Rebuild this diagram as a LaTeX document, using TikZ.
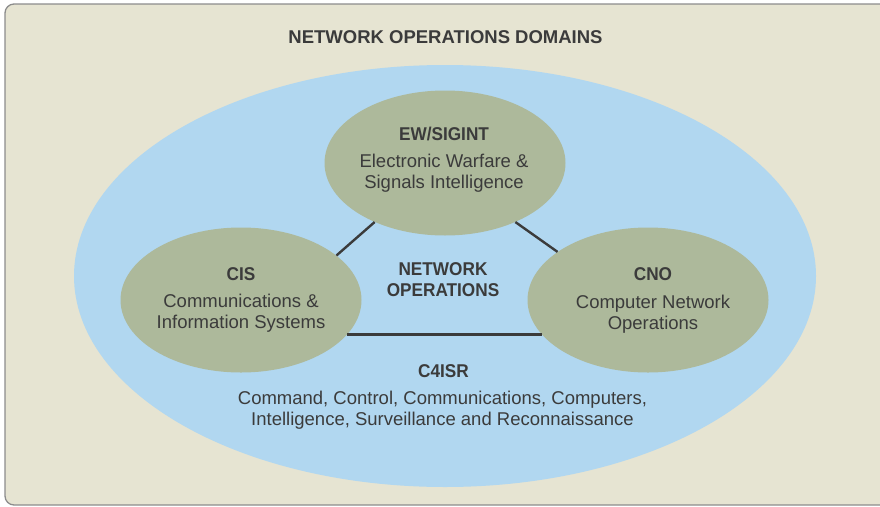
\documentclass[tikz,border=0pt]{standalone}
\usepackage{fontspec}
\setmainfont{Liberation Sans}
\newfontfamily\headfont{Liberation Sans}[FakeStretch=0.93]
\usetikzlibrary{shapes.geometric}
\definecolor{paper}{HTML}{E6E4D2}
\definecolor{sky}{HTML}{B1D7F0}
\definecolor{sage}{HTML}{ADB99B}
\definecolor{ink}{HTML}{3B3B3B}
\definecolor{frame}{HTML}{8C8C8C}
\begin{document}
\begin{tikzpicture}[x=1pt,y=-1pt,
  opsarea/.style={ellipse, fill=sage, minimum width=241pt, minimum height=145pt, inner sep=0pt},
  titletext/.style={anchor=base, text=ink, font=\fontsize{18.5}{21}\selectfont\bfseries, inner sep=0pt},
  head/.style={anchor=base, text=ink, font=\fontsize{18.5}{21}\selectfont\headfont\bfseries, inner sep=0pt},
  body/.style={anchor=base, text=ink, font=\fontsize{18.5}{21}\selectfont, inner sep=0pt},
  link/.style={draw=ink, line width=2.4pt}]
\useasboundingbox (0,0) rectangle (880,506);
% panel
\begin{scope}
  \clip (0,0) rectangle (880,506);
  \draw[fill=paper, draw=frame, line width=1.3pt, rounded corners=9pt] (5,4) rectangle (900,505);
\end{scope}
\node[titletext] (title) at (445.5,43) {NETWORK OPERATIONS DOMAINS};
% outer C4ISR area
\node[ellipse, fill=sky, minimum width=742pt, minimum height=422pt, inner sep=0pt] (c4) at (445,276) {};
% three operations areas
\node[opsarea] (ew)  at (445,163) {};
\node[opsarea] (cis) at (241,300) {};
\node[opsarea] (cno) at (648,300) {};
% connectors
\draw[link] (cis.25.4) -- (ew.220);
\draw[link] (ew.320.7) -- (cno.152.8);
\draw[link] (cis.-18.3) -- (cno.198.3);
% labels
\node[head] (ewh) at (444,140) {EW/SIGINT};
\node[body] (ew1) at (444,167) {Electronic Warfare \&};
\node[body] (ew2) at (444,188) {Signals Intelligence};
\node[head] (cish) at (241,280) {CIS};
\node[body] (cis1) at (241,307) {Communications \&};
\node[body] (cis2) at (241,328) {Information Systems};
\node[head] (cnoh) at (653,280) {CNO};
\node[body] (cno1) at (653,308) {Computer Network};
\node[body] (cno2) at (653,329) {Operations};
\node[head] (no1) at (443,275) {NETWORK};
\node[head] (no2) at (443,296) {OPERATIONS};
\node[head] (c4h) at (443.5,377) {C4ISR};
\node[body] (c41) at (442.5,404) {Command, Control, Communications, Computers,};
\node[body] (c42) at (442.5,425) {Intelligence, Surveillance and Reconnaissance};
\end{tikzpicture}
\end{document}
